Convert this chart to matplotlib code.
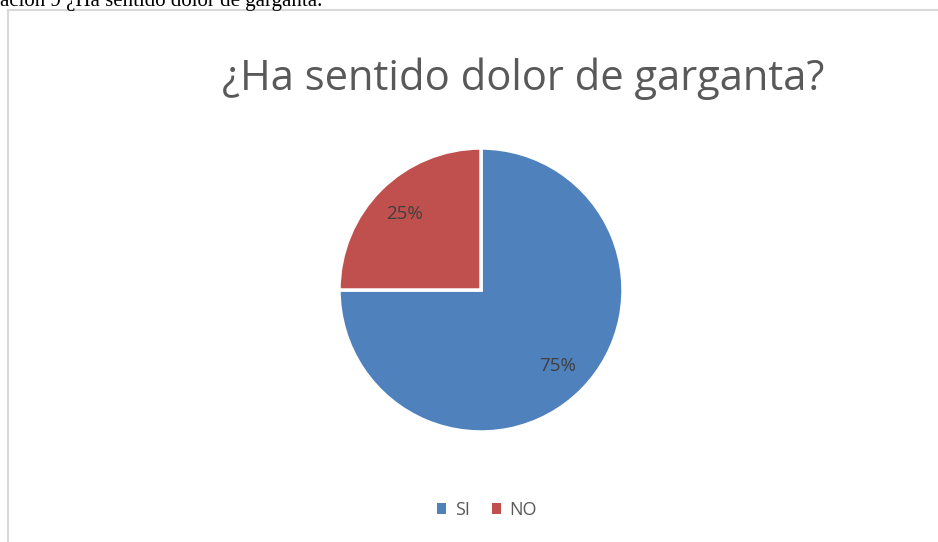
import matplotlib
matplotlib.use("Agg")
import matplotlib.pyplot as plt
from matplotlib.patches import Rectangle, Patch

categories = ["SI", "NO"]
values = [75, 25]
colors = ["#4F81BD", "#C0504D"]
title = "¿Ha sentido dolor de garganta?"
caption = "ación 9 ¿Ha sentido dolor de garganta."

W, H = 938, 542
fig = plt.figure(figsize=(W/100, H/100), dpi=100)

# outer chart frame
fig.patches.append(Rectangle((8/W, -0.01), 1.0, 1 - 10/H + 0.01, transform=fig.transFigure,
                             fill=False, edgecolor="#d9d9d9", linewidth=1.5))

# caption at top (clipped by the page edge, as in the reference)
fig.text(0/W, 1 - 6/H, caption, fontsize=15, family="Liberation Serif", color="black",
         ha="left", va="baseline")

fig.text(523/W, 1 - 79/H, title, fontsize=30, family="Open Sans", color="#595959",
         ha="center", va="center")

cx, cy, r = 481, 290, 142
ax = fig.add_axes([(cx - r)/W, (H - cy - r)/H, 2*r/W, 2*r/H])
wedges, texts, autotexts = ax.pie(values, colors=colors, startangle=90, counterclock=False,
                                  autopct="%1.0f%%", pctdistance=0.76,
                                  wedgeprops=dict(edgecolor="white", linewidth=2.5),
                                  textprops=dict(fontsize=13.5, family="Open Sans", color="#404040"))
ax.set_xlim(-1.0, 1.0)
ax.set_ylim(-1.0, 1.0)

handles = [Patch(facecolor=c, edgecolor="none") for c in colors]
fig.legend(handles, categories, loc="center", bbox_to_anchor=(487/W, 1 - 510/H), ncol=2,
           frameon=False, handlelength=0.5, handleheight=0.5, handletextpad=0.5,
           columnspacing=1.2, prop=dict(family="Open Sans", size=13), labelcolor="#595959")

fig.savefig("out.png", dpi=100)
